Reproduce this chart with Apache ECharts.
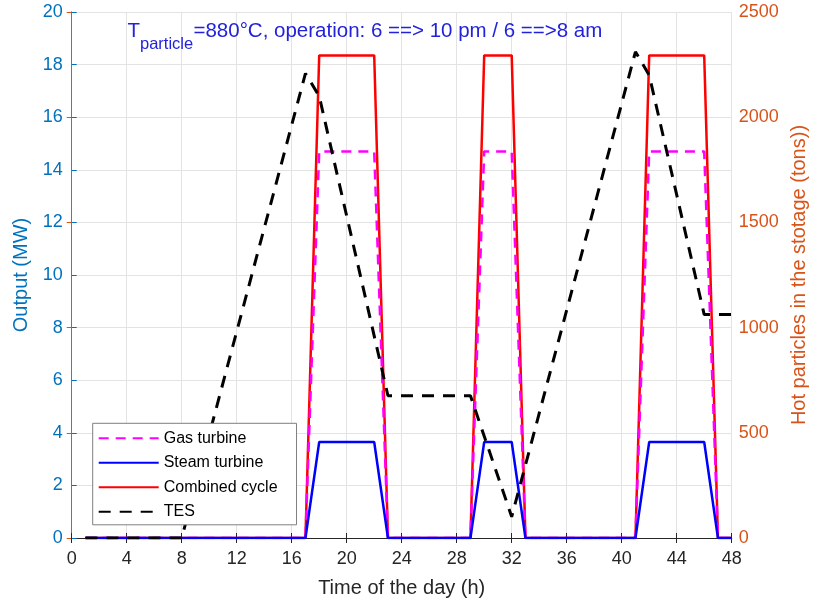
<!DOCTYPE html>
<html>
<head>
<meta charset="utf-8">
<script src="https://cdn.jsdelivr.net/npm/echarts@6/dist/echarts.min.js"></script>
<style>html,body{margin:0;padding:0;background:#fff}#c{width:822px;height:605px}</style>
</head>
<body>
<div id="c"></div>
<script>
// ---- data ----
const hours = [1, 17, 18, 22, 23, 29, 30, 32, 33, 41, 42, 46, 47, 48];
const gasTurbine = [0, 0, 14.7, 14.7, 0, 0, 14.7, 14.7, 0, 0, 14.7, 14.7, 0, 0];
const steamTurbine = [0, 0, 3.65, 3.65, 0, 0, 3.65, 3.65, 0, 0, 3.65, 3.65, 0, 0];
const combinedCycle = [0, 0, 18.35, 18.35, 0, 0, 18.35, 18.35, 0, 0, 18.35, 18.35, 0, 0];
const tesHours = [1, 8, 17, 18, 23, 29, 32, 41, 42, 46, 48];
const tesTons = [0, 0, 2208, 2100, 676, 676, 101, 2311, 2200, 1062, 1062];
const xTicks = {min: 0, max: 48, step: 4};
const yLeftTicks = {min: 0, max: 20, step: 2};
const yRightTicks = {min: 0, max: 2500, step: 500};

const pair = (xs, ys) => xs.map((x, i) => [x, ys[i]]);
const FONT = '"Liberation Sans", Arial, Helvetica, sans-serif';
const BLUE_AX = '#0072BD', ORANGE_AX = '#D95319', DARK = '#262626', GRID = '#e3e3e3', TITLE = '#2222DD';

const chart = echarts.init(document.getElementById('c'), null, {renderer: 'canvas'});
chart.setOption({
  animation: false,
  backgroundColor: '#fff',
  textStyle: {fontFamily: FONT},
  grid: {left: 71.7, right: 90.3, top: 12, bottom: 67, containLabel: false},
  graphic: [
    {type: 'text', x: 127.5, y: 31, z: 100,
     style: {text: 'T', font: '20.5px ' + FONT, fill: TITLE, textAlign: 'left', textVerticalAlign: 'middle'}},
    {type: 'text', x: 140, y: 44, z: 100,
     style: {text: 'particle', font: '16.5px ' + FONT, fill: TITLE, textAlign: 'left', textVerticalAlign: 'middle'}},
    {type: 'text', x: 193.5, y: 31, z: 100,
     style: {text: '=880°C, operation: 6 ==> 10 pm / 6 ==>8 am', font: '20.5px ' + FONT, fill: TITLE, textAlign: 'left', textVerticalAlign: 'middle'}}
  ],
  legend: {
    z: 50,
    orient: 'vertical', left: 92.7, top: 423.3,
    itemWidth: 60, itemHeight: 14, itemGap: 8.5,
    padding: [7, 19, 5, 5],
    borderColor: '#7f7f7f', borderWidth: 1, backgroundColor: '#fff',
    itemStyle: {color: 'rgba(0,0,0,0)', borderWidth: 0, opacity: 0},
    textStyle: {fontFamily: FONT, fontSize: 16, color: '#000'},
    data: ['Gas turbine', 'Steam turbine', 'Combined cycle', 'TES']
  },
  xAxis: [{
    type: 'value', position: 'bottom', min: xTicks.min, max: xTicks.max, interval: xTicks.step,
    name: 'Time of the day (h)', nameLocation: 'middle', nameGap: 40,
    nameTextStyle: {fontFamily: FONT, fontSize: 20, color: DARK},
    axisLine: {show: true, lineStyle: {color: DARK, width: 1}},
    axisTick: {show: true, inside: true, length: 5, lineStyle: {color: DARK}},
    axisLabel: {fontFamily: FONT, fontSize: 18, color: DARK, margin: 12},
    splitLine: {show: true, lineStyle: {color: GRID, width: 1}}
  }, {
    type: 'value', position: 'top', min: xTicks.min, max: xTicks.max, interval: xTicks.step,
    axisLine: {show: true, lineStyle: {color: DARK, width: 1}},
    axisTick: {show: true, inside: true, length: 5, lineStyle: {color: DARK}},
    axisLabel: {show: false}, splitLine: {show: false}
  }],
  yAxis: [{
    type: 'value', position: 'left', min: yLeftTicks.min, max: yLeftTicks.max, interval: yLeftTicks.step,
    name: 'Output (MW)', nameLocation: 'middle', nameGap: 40, nameRotate: 90,
    nameTextStyle: {fontFamily: FONT, fontSize: 20, color: BLUE_AX},
    axisLine: {show: true, lineStyle: {color: BLUE_AX, width: 1}},
    axisTick: {show: true, inside: true, length: 5, lineStyle: {color: BLUE_AX}},
    axisLabel: {fontFamily: FONT, fontSize: 18, color: BLUE_AX, margin: 9},
    splitLine: {show: true, lineStyle: {color: GRID, width: 1}}
  }, {
    type: 'value', position: 'right', min: yRightTicks.min, max: yRightTicks.max, interval: yRightTicks.step,
    name: 'Hot particles in the stotage (tons))', nameLocation: 'middle', nameGap: 56, nameRotate: 90,
    nameTextStyle: {fontFamily: FONT, fontSize: 20, color: ORANGE_AX},
    axisLine: {show: true, lineStyle: {color: ORANGE_AX, width: 1}},
    axisTick: {show: true, inside: true, length: 5, lineStyle: {color: ORANGE_AX}},
    axisLabel: {fontFamily: FONT, fontSize: 18, color: ORANGE_AX, margin: 7, formatter: v => String(v)},
    splitLine: {show: false}
  }],
  series: [{
    name: 'Gas turbine', type: 'line', xAxisIndex: 0, yAxisIndex: 0, symbol: 'none',
    data: pair(hours, gasTurbine), color: '#FF00FF',
    lineStyle: {color: '#FF00FF', width: 2.5, type: [10, 7]}, z: 3
  }, {
    name: 'Steam turbine', type: 'line', xAxisIndex: 0, yAxisIndex: 0, symbol: 'none',
    data: pair(hours, steamTurbine), color: '#0000FF',
    lineStyle: {color: '#0000FF', width: 2.5}, z: 4
  }, {
    name: 'Combined cycle', type: 'line', xAxisIndex: 0, yAxisIndex: 0, symbol: 'none',
    data: pair(hours, combinedCycle), color: '#FF0000',
    lineStyle: {color: '#FF0000', width: 2.5}, z: 2
  }, {
    name: 'TES', type: 'line', xAxisIndex: 0, yAxisIndex: 1, symbol: 'none',
    data: pair(tesHours, tesTons), color: '#000000',
    lineStyle: {color: '#000000', width: 3, type: [12, 9]}, z: 5
  }]
});
</script>
</body>
</html>
